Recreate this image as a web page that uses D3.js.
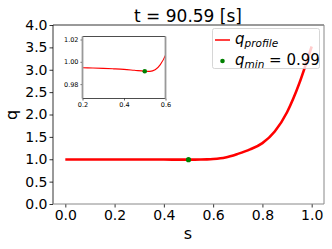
<!DOCTYPE html>
<html>
<head>
<meta charset="utf-8">
<script src="https://cdn.jsdelivr.net/npm/d3@7"></script>
<style>
  body { margin: 0; background: #fff; }
  text { font-family: "DejaVu Sans", sans-serif; }
</style>
</head>
<body>
<div id="chart"></div>
<script>
// q profile
var sValues = [0, 0.1, 0.2, 0.25, 0.3, 0.35, 0.4, 0.45, 0.5, 0.525, 0.55, 0.575, 0.6, 0.65, 0.7, 0.75, 0.8, 0.85, 0.9, 0.925, 0.95, 0.975, 1.0];
var qValues = [0.996, 0.9953, 0.9947, 0.9944, 0.9941, 0.9937, 0.9932, 0.9924, 0.9916, 0.9914, 0.9928, 0.9975, 1.006, 1.04, 1.12, 1.22, 1.36, 1.62, 2.05, 2.35, 2.7, 3.1, 3.52];
var qMin = { s: 0.5, q: 0.9916, label: "0.99" };
var xTicks = [0, 0.2, 0.4, 0.6, 0.8, 1.0];
var yTicks = [0, 0.5, 1.0, 1.5, 2.0, 2.5, 3.0, 3.5, 4.0];
var insetXTicks = [0.2, 0.4, 0.6];
var insetYTicks = [0.98, 1.00, 1.02];
var titleText = "t = 90.59 [s]";

var W = 332, H = 249;
var margin = { top: 25, right: 8, bottom: 45, left: 53 },
  width = W - margin.left - margin.right,
  height = H - margin.top - margin.bottom;

var svg = d3.select("#chart").append("svg")
  .attr("width", W).attr("height", H);

var data = sValues.map(function (s, i) { return { s: s, q: qValues[i] }; });

var x = d3.scaleLinear().domain([-0.05, 1.05]).range([0, width]);
var y = d3.scaleLinear().domain([0, 4]).range([height, 0]);

var g = svg.append("g")
  .attr("transform", "translate(" + margin.left + "," + margin.top + ")");

// axes
var xAxis = g.append("g")
  .attr("transform", "translate(0," + height + ")")
  .call(d3.axisBottom(x).tickValues(xTicks).tickFormat(d3.format(".1f")).tickSize(3.5).tickPadding(3));
var yAxis = g.append("g")
  .call(d3.axisLeft(y).tickValues(yTicks).tickFormat(d3.format(".1f")).tickSize(3.5).tickPadding(2));
[xAxis, yAxis].forEach(function (a) {
  a.select(".domain").remove();
  a.selectAll("text").style("font-size", "14px").attr("fill", "#000");
  a.selectAll("line").attr("stroke", "#000").attr("stroke-width", 0.8);
});

// frame
g.append("line").attr("x1", 0).attr("x2", 0).attr("y1", 0).attr("y2", height).attr("stroke", "#000").attr("stroke-width", 0.8);
g.append("line").attr("x1", 0).attr("x2", width).attr("y1", 0).attr("y2", 0).attr("stroke", "#000").attr("stroke-width", 0.8);
g.append("line").attr("x1", width).attr("x2", width).attr("y1", 0).attr("y2", height).attr("stroke", "#888").attr("stroke-width", 1);
g.append("line").attr("x1", 0).attr("x2", width).attr("y1", height).attr("y2", height).attr("stroke", "#888").attr("stroke-width", 1);

var line = d3.line()
  .x(function (d) { return x(d.s); })
  .y(function (d) { return y(d.q); })
  .curve(d3.curveMonotoneX);

g.append("path").datum(data)
  .attr("d", line)
  .attr("fill", "none")
  .attr("stroke", "red")
  .attr("stroke-width", 2.6);

g.append("circle")
  .attr("cx", x(qMin.s)).attr("cy", y(qMin.q)).attr("r", 2.6)
  .attr("fill", "green");

// title and labels
svg.append("text").attr("x", 188).attr("y", 22).attr("text-anchor", "middle")
  .style("font-size", "17px").text(titleText);
svg.append("text").attr("x", 188).attr("y", 239).attr("text-anchor", "middle")
  .style("font-size", "16px").text("s");
svg.append("text").attr("transform", "translate(17,115) rotate(-90)").attr("text-anchor", "middle")
  .style("font-size", "16px").text("q");

// legend
var leg = svg.append("g");
leg.append("rect").attr("x", 212.5).attr("y", 28.5).attr("width", 107).attr("height", 40)
  .attr("rx", 2).attr("fill", "#fff").attr("fill-opacity", 0.8).attr("stroke", "#ccc").attr("stroke-width", 0.8);
leg.append("line").attr("x1", 215).attr("x2", 230).attr("y1", 40).attr("y2", 40)
  .attr("stroke", "red").attr("stroke-width", 1.5);
var t1 = leg.append("text").attr("x", 235).attr("y", 44).style("font-size", "15px");
t1.append("tspan").style("font-style", "italic").text("q");
t1.append("tspan").style("font-style", "italic").style("font-size", "10.5px").attr("dy", 2.5).text("profile");
leg.append("circle").attr("cx", 222.5).attr("cy", 61).attr("r", 2.3).attr("fill", "green");
var t2 = leg.append("text").attr("x", 235).attr("y", 65).style("font-size", "15px");
t2.append("tspan").style("font-style", "italic").text("q");
t2.append("tspan").style("font-style", "italic").style("font-size", "10.5px").attr("dy", 2.5).text("min");
t2.append("tspan").attr("dy", -2.5).text(" = " + qMin.label);

// inset
var ix0 = 82.5, iy0 = 36.5, iw = 83, ih = 62;
var xi = d3.scaleLinear().domain([0.2, 0.6]).range([0, iw]);
var yi = d3.scaleLinear().domain([0.9671, 1.0227]).range([ih, 0]);
var ins = svg.append("g").attr("transform", "translate(" + ix0 + "," + iy0 + ")");
ins.append("rect").attr("width", iw).attr("height", ih).attr("fill", "#fff");

var clip = ins.append("clipPath").attr("id", "insclip");
clip.append("rect").attr("width", iw).attr("height", ih);

var lineI = d3.line()
  .x(function (d) { return xi(d.s); })
  .y(function (d) { return yi(d.q); })
  .curve(d3.curveMonotoneX);
ins.append("path").datum(data)
  .attr("clip-path", "url(#insclip)")
  .attr("d", lineI).attr("fill", "none").attr("stroke", "red").attr("stroke-width", 1.1);
ins.append("circle").attr("cx", xi(qMin.s)).attr("cy", yi(qMin.q)).attr("r", 2.3).attr("fill", "green");

var ixa = ins.append("g").attr("transform", "translate(0," + ih + ")")
  .call(d3.axisBottom(xi).tickValues(insetXTicks).tickFormat(d3.format(".1f")).tickSize(2).tickPadding(2));
var iya = ins.append("g")
  .call(d3.axisLeft(yi).tickValues(insetYTicks).tickFormat(d3.format(".2f")).tickSize(2).tickPadding(2));
[ixa, iya].forEach(function (a) {
  a.select(".domain").remove();
  a.selectAll("text").style("font-size", "6.5px").attr("fill", "#000");
  a.selectAll("line").attr("stroke", "#000").attr("stroke-width", 0.6);
});
ins.append("line").attr("x1", 0).attr("x2", iw).attr("y1", 0).attr("y2", 0).attr("stroke", "#000").attr("stroke-width", 0.7);
ins.append("line").attr("x1", 0).attr("x2", iw).attr("y1", ih).attr("y2", ih).attr("stroke", "#000").attr("stroke-width", 0.7);
ins.append("line").attr("x1", 0).attr("x2", 0).attr("y1", 0).attr("y2", ih).attr("stroke", "#999").attr("stroke-width", 1.8);
ins.append("line").attr("x1", iw).attr("x2", iw).attr("y1", 0).attr("y2", ih).attr("stroke", "#999").attr("stroke-width", 1.8);
</script>
</body>
</html>
